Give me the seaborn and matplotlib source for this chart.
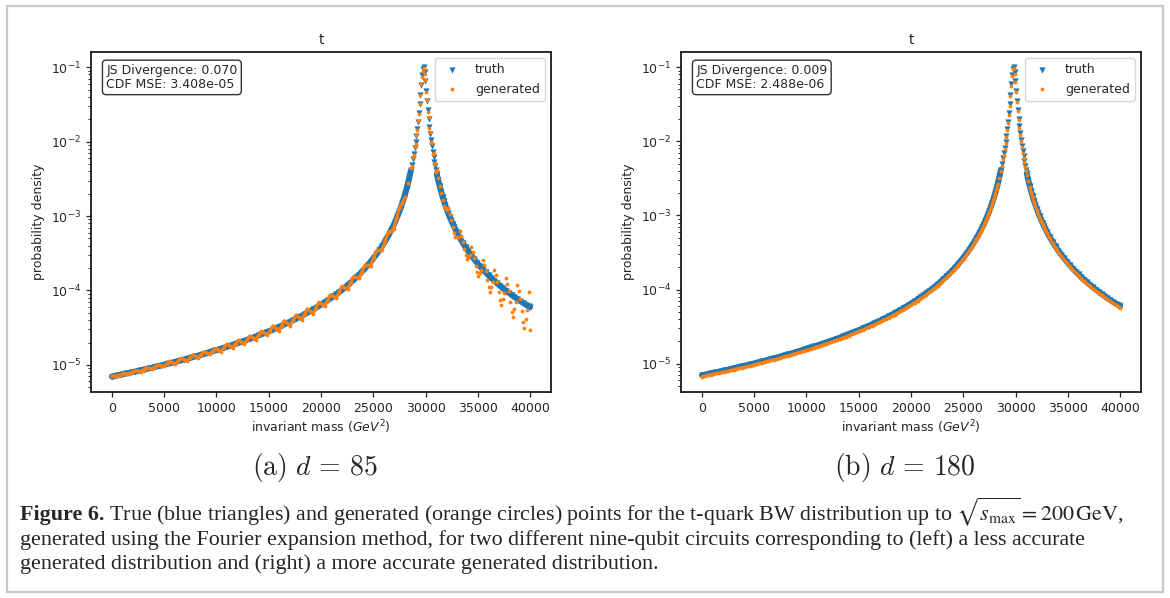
import matplotlib
matplotlib.use("Agg")
import matplotlib.pyplot as plt
from matplotlib.patches import Rectangle
import seaborn as sns

# invariant mass grid (GeV^2) shared by the truth points and the right-hand generated points
mass = [0, 275, 550, 825, 1100, 1375, 1650, 1925, 2200, 2475, 2750, 3025, 3300, 3575, 3850, 4125,
        4400, 4675, 4950, 5225, 5500, 5775, 6050, 6325, 6600, 6875, 7150, 7425, 7700, 7975, 8250,
        8525, 8800, 9075, 9350, 9625, 9900, 10175, 10450, 10725, 11000, 11275, 11550, 11825, 12100,
        12375, 12650, 12925, 13200, 13475, 13750, 14025, 14300, 14575, 14850, 15125, 15400, 15675,
        15950, 16225, 16500, 16775, 17050, 17325, 17600, 17875, 18150, 18425, 18700, 18975, 19250,
        19525, 19800, 20075, 20350, 20625, 20900, 21175, 21450, 21725, 22000, 22275, 22550, 22825,
        23100, 23375, 23650, 23925, 24200, 24475, 24750, 25025, 25300, 25575, 25850, 26125, 26262.5,
        26400, 26537.5, 26675, 26812.5, 26950, 27087.5, 27225, 27362.5, 27500, 27637.5, 27775,
        27912.5, 28050, 28187.5, 28325, 28462.5, 28600, 28700, 28807, 28885, 28964, 29042, 29120,
        29199, 29277, 29355, 29433, 29512, 29590, 29668, 29747, 29825, 29903, 29982, 30060, 30138,
        30216, 30295, 30373, 30451, 30530, 30608, 30686, 30764, 30843, 30921, 30999, 31075, 31212.5,
        31350, 31487.5, 31625, 31762.5, 31900, 32037.5, 32175, 32312.5, 32450, 32587.5, 32725,
        32862.5, 33000, 33275, 33550, 33825, 34100, 34375, 34650, 34925, 35200, 35475, 35750, 36025,
        36300, 36575, 36850, 37125, 37400, 37675, 37950, 38225, 38500, 38775, 39050, 39325, 39600,
        39875, 40000]

truth = [6.981e-6, 7.112e-6, 7.247e-6, 7.385e-6, 7.527e-6, 7.673e-6, 7.824e-6, 7.979e-6, 8.139e-6,
         8.303e-6, 8.473e-6, 8.648e-6, 8.829e-6, 9.015e-6, 9.207e-6, 9.405e-6, 9.610e-6, 9.822e-6,
         1.004e-5, 1.027e-5, 1.050e-5, 1.074e-5, 1.099e-5, 1.125e-5, 1.152e-5, 1.180e-5, 1.209e-5,
         1.238e-5, 1.269e-5, 1.302e-5, 1.335e-5, 1.370e-5, 1.406e-5, 1.443e-5, 1.483e-5, 1.523e-5,
         1.566e-5, 1.610e-5, 1.656e-5, 1.704e-5, 1.754e-5, 1.807e-5, 1.862e-5, 1.919e-5, 1.979e-5,
         2.042e-5, 2.108e-5, 2.177e-5, 2.250e-5, 2.326e-5, 2.407e-5, 2.491e-5, 2.580e-5, 2.675e-5,
         2.774e-5, 2.879e-5, 2.990e-5, 3.107e-5, 3.232e-5, 3.364e-5, 3.505e-5, 3.654e-5, 3.814e-5,
         3.984e-5, 4.165e-5, 4.360e-5, 4.568e-5, 4.792e-5, 5.032e-5, 5.291e-5, 5.570e-5, 5.872e-5,
         6.196e-5, 6.551e-5, 6.938e-5, 7.360e-5, 7.821e-5, 8.328e-5, 8.885e-5, 9.499e-5, 1.018e-4,
         1.094e-4, 1.178e-4, 1.273e-4, 1.379e-4, 1.500e-4, 1.637e-4, 1.793e-4, 1.973e-4, 2.182e-4,
         2.426e-4, 2.712e-4, 3.053e-4, 3.462e-4, 3.959e-4, 4.569e-4, 4.930e-4, 5.336e-4, 5.791e-4,
         6.309e-4, 6.899e-4, 7.575e-4, 8.356e-4, 9.264e-4, 1.033e-3, 1.158e-3, 1.308e-3, 1.489e-3,
         1.711e-3, 1.984e-3, 2.329e-3, 2.770e-3, 3.350e-3, 4.128e-3, 4.874e-3, 5.916e-3, 6.896e-3,
         8.145e-3, 9.740e-3, 1.183e-2, 1.463e-2, 1.847e-2, 2.385e-2, 3.157e-2, 4.273e-2, 5.843e-2,
         7.814e-2, 9.560e-2, 9.900e-2, 8.534e-2, 6.530e-2, 4.788e-2, 3.517e-2, 2.634e-2, 2.022e-2,
         1.589e-2, 1.275e-2, 1.043e-2, 8.675e-3, 7.317e-3, 6.256e-3, 5.394e-3, 4.702e-3, 4.132e-3,
         3.674e-3, 3.014e-3, 2.516e-3, 2.131e-3, 1.828e-3, 1.584e-3, 1.386e-3, 1.223e-3, 1.087e-3,
         9.726e-4, 8.752e-4, 7.916e-4, 7.195e-4, 6.567e-4, 6.018e-4, 5.108e-4, 4.390e-4, 3.812e-4,
         3.342e-4, 2.953e-4, 2.629e-4, 2.355e-4, 2.122e-4, 1.921e-4, 1.748e-4, 1.597e-4, 1.465e-4,
         1.349e-4, 1.246e-4, 1.154e-4, 1.072e-4, 9.988e-5, 9.325e-5, 8.727e-5, 8.185e-5, 7.691e-5,
         7.241e-5, 6.829e-5, 6.451e-5, 6.104e-5, 5.956e-5]

# d = 180: generated values on the same grid as truth
gen_right = [6.70e-6, 6.83e-6, 6.96e-6, 7.09e-6, 7.23e-6, 7.37e-6, 7.51e-6, 7.66e-6, 7.81e-6,
             7.97e-6, 8.13e-6, 8.30e-6, 8.48e-6, 8.65e-6, 8.84e-6, 9.03e-6, 9.23e-6, 9.43e-6,
             9.64e-6, 9.86e-6, 1.008e-5, 1.031e-5, 1.055e-5, 1.080e-5, 1.106e-5, 1.133e-5, 1.161e-5,
             1.188e-5, 1.218e-5, 1.250e-5, 1.282e-5, 1.315e-5, 1.350e-5, 1.385e-5, 1.424e-5, 1.462e-5,
             1.503e-5, 1.546e-5, 1.590e-5, 1.636e-5, 1.684e-5, 1.735e-5, 1.788e-5, 1.842e-5, 1.900e-5,
             1.960e-5, 2.024e-5, 2.090e-5, 2.160e-5, 2.233e-5, 2.311e-5, 2.391e-5, 2.477e-5, 2.568e-5,
             2.663e-5, 2.764e-5, 2.870e-5, 2.983e-5, 3.103e-5, 3.229e-5, 3.365e-5, 3.508e-5, 3.661e-5,
             3.825e-5, 3.998e-5, 4.186e-5, 4.385e-5, 4.600e-5, 4.831e-5, 5.079e-5, 5.347e-5, 5.637e-5,
             5.948e-5, 6.289e-5, 6.660e-5, 7.066e-5, 7.508e-5, 7.995e-5, 8.530e-5, 9.119e-5, 9.770e-5,
             1.050e-4, 1.131e-4, 1.222e-4, 1.324e-4, 1.440e-4, 1.572e-4, 1.721e-4, 1.894e-4, 2.095e-4,
             2.329e-4, 2.604e-4, 2.931e-4, 3.324e-4, 3.801e-4, 4.386e-4, 4.733e-4, 5.123e-4, 5.559e-4,
             6.057e-4, 6.623e-4, 7.272e-4, 8.022e-4, 8.893e-4, 9.920e-4, 1.112e-3, 1.256e-3, 1.429e-3,
             1.643e-3, 1.905e-3, 2.236e-3, 2.659e-3, 3.216e-3, 3.963e-3, 4.679e-3, 5.679e-3, 6.620e-3,
             7.819e-3, 9.350e-3, 1.136e-2, 1.404e-2, 1.773e-2, 2.290e-2, 3.031e-2, 4.102e-2, 5.609e-2,
             7.501e-2, 9.300e-2, 9.600e-2, 8.190e-2, 6.270e-2, 4.600e-2, 3.376e-2, 2.529e-2, 1.941e-2,
             1.525e-2, 1.224e-2, 1.001e-2, 8.330e-3, 7.020e-3, 6.010e-3, 5.180e-3, 4.510e-3, 3.970e-3,
             3.527e-3, 2.893e-3, 2.415e-3, 2.046e-3, 1.755e-3, 1.521e-3, 1.331e-3, 1.174e-3, 1.044e-3,
             9.340e-4, 8.400e-4, 7.600e-4, 6.910e-4, 6.300e-4, 5.780e-4, 4.900e-4, 4.210e-4, 3.660e-4,
             3.210e-4, 2.835e-4, 2.524e-4, 2.261e-4, 2.037e-4, 1.844e-4, 1.678e-4, 1.533e-4, 1.406e-4,
             1.295e-4, 1.196e-4, 1.108e-4, 1.029e-4, 9.590e-5, 8.950e-5, 8.380e-5, 7.860e-5, 7.380e-5,
             6.950e-5, 6.560e-5, 6.190e-5, 5.860e-5, 5.720e-5]

# d = 85: generated points have their own grid (denser in the noisy upper tail)
gen_left_mass = [0, 275, 550, 825, 1100, 1375, 1650, 1925, 2200, 2475, 2750, 3025, 3300, 3575,
                 3850, 4125, 4400, 4675, 4950, 5225, 5500, 5775, 6050, 6325, 6600, 6875, 7150, 7425,
                 7700, 7975, 8250, 8525, 8800, 9075, 9350, 9625, 9900, 10175, 10450, 10725, 11000,
                 11275, 11550, 11825, 12100, 12375, 12650, 12925, 13200, 13475, 13750, 14025, 14300,
                 14575, 14850, 15125, 15400, 15675, 15950, 16225, 16500, 16775, 17050, 17325, 17600,
                 17875, 18150, 18425, 18700, 18975, 19250, 19525, 19800, 20075, 20350, 20625, 20900,
                 21175, 21450, 21725, 22000, 22275, 22550, 22825, 23100, 23375, 23650, 23925, 24200,
                 24475, 24750, 25025, 25300, 25575, 25850, 26125, 26400, 26675, 26950, 27225, 27500,
                 27775, 28050, 28325, 28600, 28700, 28807, 28885, 28964, 29042, 29120, 29199, 29277,
                 29355, 29433, 29512, 29590, 29668, 29747, 29825, 29903, 29982, 30060, 30138, 30216,
                 30295, 30373, 30451, 30530, 30608, 30686, 30764, 30843, 30921, 30999, 31075, 31212.5,
                 31350, 31487.5, 31625, 31762.5, 31900, 32037.5, 32175, 32312.5, 32450, 32587.5, 32725,
                 32862.5, 33000, 33137.5, 33275, 33412.5, 33550, 33687.5, 33825, 33962.5, 34100,
                 34237.5, 34375, 34512.5, 34650, 34787.5, 34925, 35062.5, 35200, 35337.5, 35475,
                 35612.5, 35750, 35887.5, 36025, 36162.5, 36300, 36437.5, 36575, 36712.5, 36850,
                 36987.5, 37125, 37262.5, 37400, 37537.5, 37675, 37812.5, 37950, 38087.5, 38225,
                 38362.5, 38500, 38637.5, 38775, 38912.5, 39050, 39187.5, 39325, 39462.5, 39600,
                 39737.5, 39875, 40000]

gen_left = [7.12e-6, 7.11e-6, 7.10e-6, 7.39e-6, 7.68e-6, 7.66e-6, 7.67e-6, 7.99e-6, 8.30e-6,
            8.29e-6, 8.13e-6, 8.66e-6, 9.18e-6, 9.00e-6, 8.84e-6, 9.42e-6, 9.99e-6, 9.80e-6,
            9.64e-6, 1.029e-5, 1.113e-5, 1.072e-5, 1.033e-5, 1.127e-5, 1.221e-5, 1.178e-5, 1.136e-5,
            1.240e-5, 1.345e-5, 1.300e-5, 1.255e-5, 1.372e-5, 1.490e-5, 1.440e-5, 1.394e-5, 1.526e-5,
            1.660e-5, 1.607e-5, 1.507e-5, 1.707e-5, 1.912e-5, 1.804e-5, 1.694e-5, 1.922e-5, 2.157e-5,
            2.039e-5, 1.918e-5, 2.180e-5, 2.453e-5, 2.322e-5, 2.190e-5, 2.495e-5, 2.812e-5, 2.671e-5,
            2.524e-5, 2.883e-5, 3.349e-5, 3.102e-5, 2.844e-5, 3.369e-5, 3.926e-5, 3.648e-5, 3.356e-5,
            3.990e-5, 4.665e-5, 4.353e-5, 4.020e-5, 4.799e-5, 5.636e-5, 5.283e-5, 4.902e-5, 5.881e-5,
            6.940e-5, 6.541e-5, 6.105e-5, 7.371e-5, 8.760e-5, 8.315e-5, 7.819e-5, 9.513e-5, 1.140e-4,
            1.092e-4, 1.048e-4, 1.275e-4, 1.531e-4, 1.498e-4, 1.457e-4, 1.796e-4, 2.190e-4, 2.179e-4,
            2.159e-4, 2.716e-4, 3.389e-4, 3.457e-4, 3.524e-4, 4.576e-4, 5.923e-4, 6.300e-4, 6.742e-4,
            9.278e-4, 1.274e-3, 1.487e-3, 1.786e-3, 2.774e-3, 4.458e-3, 4.630e-3, 6.210e-3, 6.690e-3,
            8.470e-3, 9.350e-3, 1.218e-2, 1.419e-2, 1.884e-2, 2.337e-2, 3.220e-2, 4.188e-2, 6.018e-2,
            7.423e-2, 8.800e-2, 9.700e-2, 8.190e-2, 6.660e-2, 4.640e-2, 3.660e-2, 2.530e-2, 2.120e-2,
            1.510e-2, 1.364e-2, 9.800e-3, 9.540e-3, 6.800e-3, 7.010e-3, 4.960e-3, 5.170e-3, 3.880e-3,
            4.122e-3, 3.231e-3, 2.546e-3, 2.016e-3, 1.636e-3, 1.380e-3, 1.275e-3, 1.190e-3,
            1.277e-3, 1.072e-3, 8.892e-4, 7.219e-4, 5.986e-4, 5.214e-4, 5.242e-4, 5.295e-4,
            6.283e-4, 5.360e-4, 4.482e-4, 3.629e-4, 3.000e-4, 2.645e-4, 2.794e-4, 2.959e-4,
            3.803e-4, 3.243e-4, 2.697e-4, 2.147e-4, 1.754e-4, 1.547e-4, 1.702e-4, 1.876e-4,
            2.591e-4, 2.193e-4, 1.800e-4, 1.390e-4, 1.105e-4, 9.654e-5, 1.112e-4, 1.282e-4,
            1.906e-4, 1.594e-4, 1.290e-4, 9.616e-5, 7.420e-5, 6.394e-5, 7.697e-5, 9.263e-5,
            1.477e-4, 1.221e-4, 9.698e-5, 6.973e-5, 5.210e-5, 4.437e-5, 5.558e-5, 6.974e-5,
            1.191e-4, 9.702e-5, 7.567e-5, 5.239e-5, 3.790e-5, 3.179e-5, 4.148e-5, 5.415e-5,
            9.675e-5, 2.980e-5]

sub_labels = ["(a)", "(b)"]
depths = [85, 180]
js_divergence = ["0.070", "0.009"]
cdf_mse = ["3.408e-05", "2.488e-06"]
x_ticks = [0, 5000, 10000, 15000, 20000, 25000, 30000, 35000, 40000]

caption = [
    " True (blue triangles) and generated (orange circles) points for the t-quark BW distribution "
    r"up to $\sqrt{s_{\mathrm{max}}} = 200\,\mathrm{GeV}$,",
    "generated using the Fourier expansion method, for two different nine-qubit circuits "
    "corresponding to (left) a less accurate",
    "generated distribution and (right) a more accurate generated distribution.",
]

BLUE, ORANGE = '#1f77b4', '#ff7f0e'


def pick(xs, ys, keep):
    # subset of points whose mass passes the test (used for the dense, merged parts)
    sel = [(x, y) for x, y in zip(xs, ys) if keep(x)]
    return [p[0] for p in sel], [p[1] for p in sel]


def dense_band(ax, xs, ys, color, lw, z, lo=28600, hi=31075):
    # the tails hold so many points that they merge into a solid band
    for keep in (lambda x: x <= lo, lambda x: x >= hi):
        bx, by = pick(xs, ys, keep)
        if bx:
            sns.lineplot(x=bx, y=by, color=color, lw=lw, estimator=None, sort=False,
                         ax=ax, zorder=z, legend=False, solid_capstyle='round')


sns.set_style("ticks")
plt.rcParams['font.family'] = ['DejaVu Sans']

W, H = 1170, 598
fig = plt.figure(figsize=(W / 100, H / 100), dpi=100)

axes_left_px = [91, 681]
for i in range(2):
    ax = fig.add_axes([axes_left_px[i] / W, (H - 392) / H, 460 / W, 340 / H])
    ax.set_yscale('log')

    dense_band(ax, mass, truth, BLUE, 4.3, 1)
    sns.scatterplot(x=mass, y=truth, marker='v', s=20, color=BLUE, linewidth=0,
                    label='truth', ax=ax, zorder=2)
    if i == 0:
        # only the lower tail of the d=85 curve is dense enough to look continuous
        dense_band(ax, gen_left_mass, gen_left, ORANGE, 2.2, 3, lo=28050, hi=99999)
        gx, gy = gen_left_mass, gen_left
    else:
        dense_band(ax, mass, gen_right, ORANGE, 2.0, 3, lo=28325, hi=31350)
        gx, gy = mass, gen_right
    sns.scatterplot(x=gx, y=gy, marker='.', s=30, color=ORANGE, linewidth=0,
                    label='generated', ax=ax, zorder=4)

    ax.set_xticks(x_ticks)
    ax.tick_params(labelsize=9, length=3.5, width=0.9)
    ax.tick_params(which='minor', length=2, width=0.7)
    for sp in ax.spines.values():
        sp.set_linewidth(1.3)
        sp.set_color('#1a1a1a')
    ax.set_title('t', fontsize=10, pad=6)
    ax.set_xlabel(r'invariant mass ($GeV^2$)', fontsize=9, labelpad=3)
    ax.set_ylabel('probability density', fontsize=9)
    ax.legend(loc='upper right', fontsize=9)
    ax.text(0.033, 0.965, f"JS Divergence: {js_divergence[i]}\nCDF MSE: {cdf_mse[i]}",
            transform=ax.transAxes, va='top', ha='left', fontsize=9, linespacing=1.1,
            bbox=dict(boxstyle='round,pad=0.3', facecolor='white', edgecolor='#333333', lw=1))

    fig.text((axes_left_px[i] + 224) / W, 1 - 468 / H,
             r"$\mathrm{" + sub_labels[i] + r"}\ d\,=\," + str(depths[i]) + "$",
             ha='center', va='center', fontsize=20, math_fontfamily='cm')

# figure caption below the panels
cap_x = 20 / W
cap_size = 15.8
line_y = [1 - 520 / H, 1 - 545 / H, 1 - 569 / H]
head = fig.text(cap_x, line_y[0], "Figure 6.", family='Liberation Serif', weight='bold',
                fontsize=cap_size, va='baseline')
fig.canvas.draw()
head_end = head.get_window_extent().x1 / W
fig.text(head_end, line_y[0], caption[0], family='Liberation Serif', fontsize=cap_size,
         va='baseline', math_fontfamily='stix')
for j in (1, 2):
    fig.text(cap_x, line_y[j], caption[j], family='Liberation Serif', fontsize=cap_size,
             va='baseline')

# light frame around the whole figure
fig.patches.append(Rectangle((7 / W, 6 / H), 1156 / W, 586 / H, transform=fig.transFigure,
                             fill=False, edgecolor='#c8c8c8', linewidth=1.6))

fig.savefig('out.png', dpi=100)
